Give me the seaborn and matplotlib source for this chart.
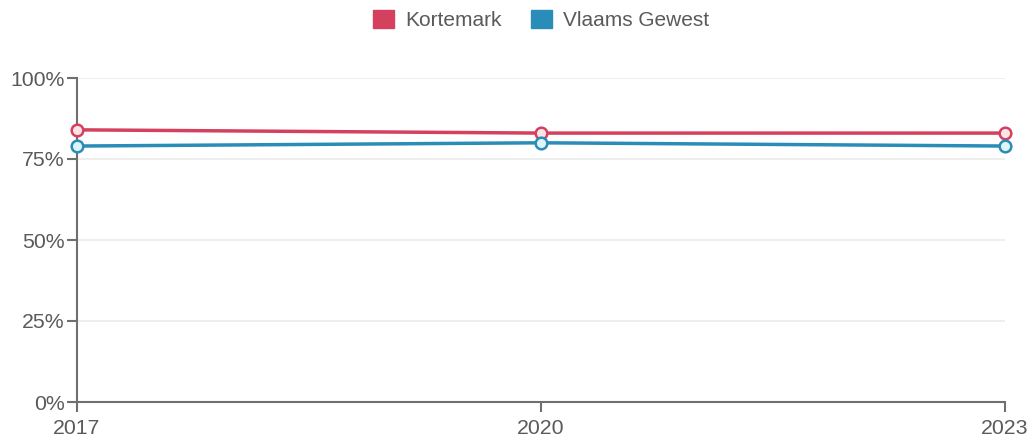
import matplotlib
matplotlib.use("Agg")
import matplotlib.pyplot as plt
import seaborn as sns
import pandas as pd
from matplotlib.patches import Patch

years = [2017, 2020, 2023]
kortemark = [84, 83, 83]
vlaams = [79, 80, 79]
series_names = ["Kortemark", "Vlaams Gewest"]
yticks = [0, 25, 50, 75, 100]
ytick_labels = ["0%", "25%", "50%", "75%", "100%"]

colors = {"Kortemark": "#d6405f", "Vlaams Gewest": "#2a8cb8"}
fills = {"Kortemark": "#fbe3e8", "Vlaams Gewest": "#dff4f8"}

df = pd.DataFrame({
    "year": years * 2,
    "value": kortemark + vlaams,
    "series": [series_names[0]] * 3 + [series_names[1]] * 3,
})

sns.set_theme(style="white")
plt.rcParams["font.family"] = ["Liberation Sans", "DejaVu Sans"]

fig = plt.figure(figsize=(10.35, 4.41), dpi=100)
ax = fig.add_axes([77 / 1035, 39 / 441, 928 / 1035, 324 / 441])

sns.lineplot(data=df, x="year", y="value", hue="series", palette=colors,
             linewidth=2.5, ax=ax, legend=False, zorder=3)
for name in series_names:
    sub = df[df.series == name]
    ax.scatter(sub.year, sub.value, s=70, facecolor=fills[name],
               edgecolor=colors[name], linewidth=1.8, zorder=4, clip_on=False)

ax.set_xlim(2017, 2023)
ax.set_ylim(0, 100)
ax.set_xticks(years)
ax.set_xticklabels([str(y) for y in years])
ax.set_yticks(yticks)
ax.set_yticklabels(ytick_labels)
ax.set_xlabel("")
ax.set_ylabel("")
ax.grid(axis="y", color="#ebebeb", linewidth=1.2, zorder=0)
ax.grid(axis="x", visible=False)
for s in ["top", "right"]:
    ax.spines[s].set_visible(False)
for s in ["left", "bottom"]:
    ax.spines[s].set_color("#6f6f6f")
    ax.spines[s].set_linewidth(1.5)
ax.tick_params(axis="both", left=True, bottom=True, colors="#6f6f6f", length=7, width=1.5,
               labelsize=15.3, labelcolor="#5a5a5a", pad=2, direction="out")
ax.tick_params(axis="x", pad=5)

handles = [Patch(facecolor=colors[n], edgecolor=colors[n], label=n) for n in series_names]
fig.legend(handles=handles, loc="center", bbox_to_anchor=(541 / 1035, 1 - 20 / 441),
           ncol=2, frameon=False, fontsize=15, handlelength=1.0, handleheight=0.96,
           columnspacing=1.4, handletextpad=0.53, labelcolor="#5a5a5a",
           borderaxespad=0, borderpad=0)

fig.savefig("out.png", dpi=100)
